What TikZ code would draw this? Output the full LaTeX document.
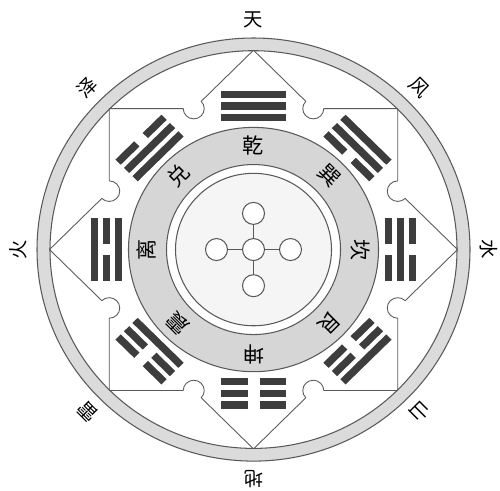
\documentclass[tikz,border=0pt]{standalone}
\usepackage{fontspec}
\newfontfamily\cjk{Noto Sans CJK SC}
\usepackage{xcolor}
\usepackage{tikz}
\usetikzlibrary{positioning}

\definecolor{bandgray}{gray}{0.86}
\definecolor{ringgray}{gray}{0.84}
\definecolor{diskgray}{gray}{0.96}
\definecolor{edgegray}{gray}{0.35}
\definecolor{bargray}{gray}{0.24}

\begin{document}
\begin{tikzpicture}[
      xscale=0.02, yscale=0.01954,
      edge/.style={draw=edgegray, line width=0.6pt},
      starline/.style={draw=edgegray, line width=0.5pt, line join=round},
      bar/.style={fill=bargray},
      dot/.style={circle, draw=edgegray, line width=0.6pt, fill=white, minimum size=0.44cm, inner sep=0pt},
      outerlbl/.style={font=\cjk\fontsize{11}{11}\selectfont, inner sep=0pt},
      innerlbl/.style={font=\cjk\fontsize{12}{12}\selectfont, inner sep=0pt}
    ]
    \useasboundingbox (-253.5,-246.2) rectangle (246.5,255.4);

    % Outer band
    \fill[bandgray, even odd rule] (0,0) circle (216.5) (0,0) circle (203.5);
    \draw[edge] (0,0) circle (216.5);
    \draw[edge] (0,0) circle (203.5);

    % Star with notches
    \foreach \q in {0,90,180,270}{
      \draw[starline, rotate=\q] (0,204) -- (52.33,151.67)
        arc[start angle=135, end angle=360, radius=10.5] -- (144.25,144.25)
        -- (144.25,70.25) arc[start angle=90, end angle=315, radius=10.5]
        -- (204,0);
    }

    % Rings
    \fill[ringgray] (0,0) circle (125);
    \draw[edge] (0,0) circle (125);
    \draw[edge, fill=white] (0,0) circle (87);
    \draw[edge, fill=diskgray] (0,0) circle (78);

    % Trigrams (line 1 nearest the centre)
    \foreach \a/\la/\lb/\lc in {90/1/1/1, 135/1/1/0, 180/1/0/1, 225/1/0/0,
                                270/0/0/0, 315/0/0/1, 0/0/1/0, 45/0/1/1}{
      \begin{scope}[shift={(\a:147)}, rotate=\a-90]
        \foreach \y/\s in {-12/\la, 0/\lb, 12/\lc}{
          \ifnum\s=1
            \fill[bar] (-32.5,{\y-3.75}) rectangle (32.5,{\y+3.75});
          \else
            \fill[bar] (-32.5,{\y-3.75}) rectangle (-6,{\y+3.75});
            \fill[bar] (6,{\y-3.75}) rectangle (32.5,{\y+3.75});
          \fi
        }
      \end{scope}
    }

    % Outer labels
    \foreach \a/\t [count=\i] in {90/天, 45/风, 0/水, -45/山, -90/地, -135/雷, 180/火, 135/泽}{
      \node[outerlbl, rotate=\a-90] (out\i) at (\a:235) {\t};
    }

    % Inner labels
    \foreach \a/\t [count=\i] in {90/乾, 45/巽, 0/坎, -45/艮, -90/坤, -135/震, 180/离, 135/兑}{
      \node[innerlbl, rotate=\a-90] (gua\i) at (\a:107) {\t};
    }

    % Centre cross
    \node[dot] (c) at (0,0) {};
    \node[dot] (n) at (90:37) {};
    \node[dot] (e) at (0:37) {};
    \node[dot] (s) at (-90:37) {};
    \node[dot] (w) at (180:37) {};

    % Edges
    \draw[edge] (c) -- (n);
    \draw[edge] (c) -- (e);
    \draw[edge] (c) -- (s);
    \draw[edge] (c) -- (w);
  \end{tikzpicture}
\end{document}
